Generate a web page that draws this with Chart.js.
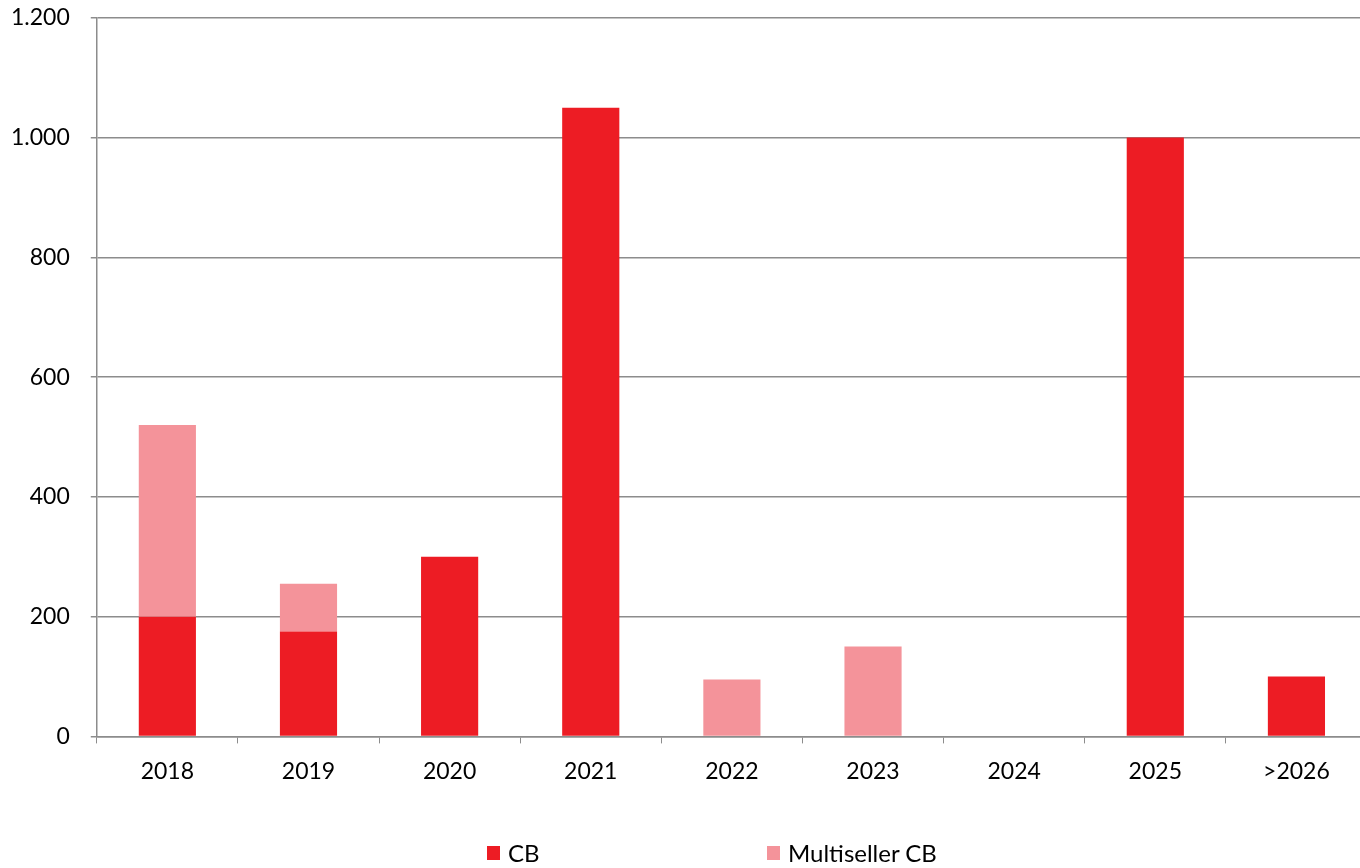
<!DOCTYPE html>
<html>
<head>
<meta charset="utf-8">
<script src="https://cdn.jsdelivr.net/npm/chart.js@4.4.0/dist/chart.umd.min.js"></script>
<style>
    html, body { margin: 0; padding: 0; background: #fff; overflow: hidden; }
    #wrap { position: relative; width: 1360px; height: 868px; overflow: hidden; }
    #barChart { position: absolute; left: -10px; top: -17px; }
    .legend { position: absolute; top: 838px; font-family: Lato, sans-serif; font-size: 24px; color: #000; display: flex; align-items: center; }
    .legend span.box { display: inline-block; width: 13px; height: 14px; margin-right: 8px; }
</style>
</head>
<body>
<div id="wrap">
    <canvas id="barChart" width="1377" height="885"></canvas>
    <div class="legend" style="left:487px"><span class="box" style="background:#ED1C24"></span>CB</div>
    <div class="legend" style="left:767px"><span class="box" style="background:#F4939A"></span>Multiseller CB</div>
</div>
<script>
const years = ['2018', '2019', '2020', '2021', '2022', '2023', '2024', '2025', '>2026'];
const cbValues = [200, 175, 300, 1050, 0, 0, 0, 1000, 100];
const multisellerValues = [320, 80, 0, 0, 95, 150, 0, 0, 0];
const yTicks = [0, 200, 400, 600, 800, 1000, 1200];

document.addEventListener('DOMContentLoaded', function() {
    const ctx = document.getElementById('barChart').getContext('2d');
    const gridColor = '#8C8C8C';

    new Chart(ctx, {
        type: 'bar',
        data: {
            labels: years,
            datasets: [{
                label: 'CB',
                data: cbValues,
                backgroundColor: '#ED1C24',
                borderWidth: 0
            }, {
                label: 'Multiseller CB',
                data: multisellerValues,
                backgroundColor: '#F4939A',
                borderWidth: 0
            }]
        },
        options: {
            responsive: false,
            animation: false,
            layout: {
                padding: { left: 0, right: 0, top: 0, bottom: 69 }
            },
            datasets: {
                bar: { categoryPercentage: 1, barPercentage: 0.405 }
            },
            plugins: {
                legend: { display: false },
                tooltip: { enabled: false }
            },
            scales: {
                x: {
                    stacked: true,
                    grid: {
                        offset: true,
                        drawOnChartArea: false,
                        color: gridColor,
                        tickLength: 7
                    },
                    border: { color: gridColor, width: 1.5 },
                    ticks: {
                        color: '#000',
                        padding: 14,
                        font: { family: 'Lato', size: 23 }
                    }
                },
                y: {
                    stacked: true,
                    min: 0,
                    max: 1200,
                    afterBuildTicks: function(axis) {
                        axis.ticks = yTicks.map(v => ({ value: v }));
                    },
                    grid: {
                        color: gridColor,
                        lineWidth: 1.5,
                        tickLength: 6
                    },
                    border: { color: gridColor, width: 1.5 },
                    ticks: {
                        color: '#000',
                        padding: 21,
                        font: { family: 'Lato', size: 23 },
                        callback: function(v) {
                            return v.toString().replace(/\B(?=(\d{3})+(?!\d))/g, '.');
                        }
                    }
                }
            }
        }
    });
});
</script>
</body>
</html>
